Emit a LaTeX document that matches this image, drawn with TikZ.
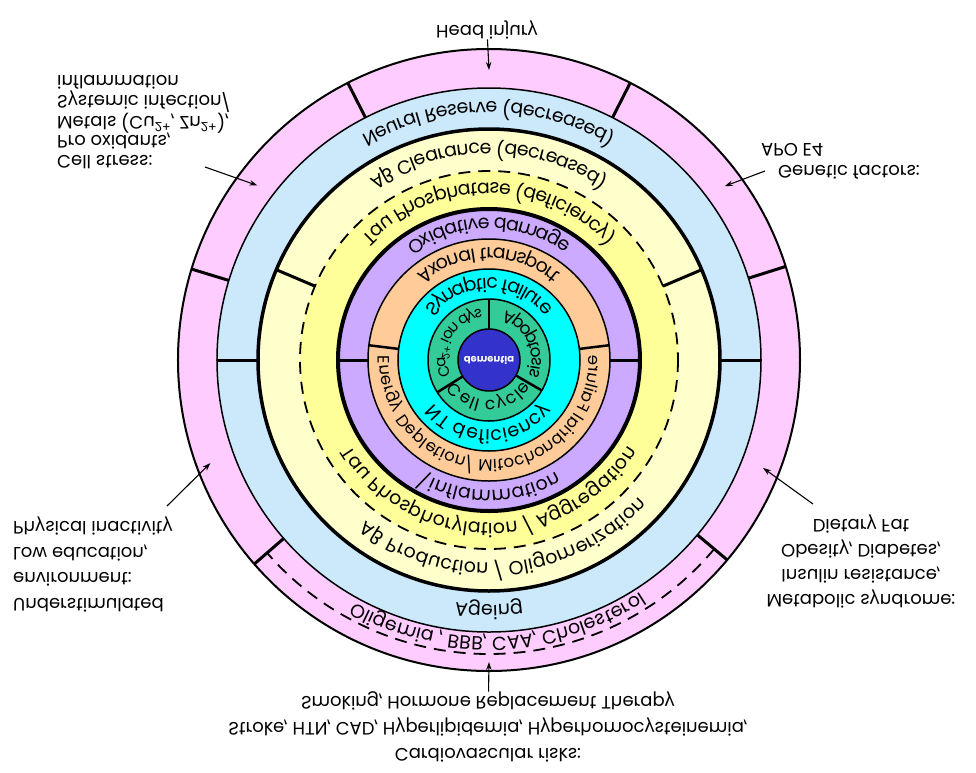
\documentclass[tikz,border=0pt]{standalone}
\usepackage{fontspec}
\setmainfont{Poppins}
\newfontfamily\grk{DejaVu Sans}
\usetikzlibrary{arrows.meta,decorations.text}
\definecolor{pinkring}{HTML}{FFCCFF}
\definecolor{bluering}{HTML}{CCE9FB}
\definecolor{paleyellow}{HTML}{FFFFCC}
\definecolor{yellowring}{HTML}{FFFF99}
\definecolor{purplering}{HTML}{CCAAFF}
\definecolor{orangering}{HTML}{FFCC99}
\definecolor{cyanring}{HTML}{00FFFF}
\definecolor{greenring}{HTML}{33CC99}
\definecolor{corecol}{HTML}{3333CC}

\begin{document}
\begin{tikzpicture}[x=1pt, y=1pt,
    divider/.style={line width=3pt},
    arr/.style={-{Stealth[length=8pt,width=5.5pt]}, line width=1.1pt},
    txt/.style={inner sep=0pt, align=left, font=\fontsize{18}{20}\selectfont},
    ringtext/.style={decorate, decoration={text along path, text align=center, text={#1}}}]

  \fontsize{19}{22}\selectfont
  \useasboundingbox (-489,-412) rectangle (487,360);

  % the whole figure is printed upside down
  \begin{scope}[transform canvas={yscale=-1}]
  \fill[pinkring] (0,0) circle (311);
  \fill[bluering] (0,0) circle (272);
  \fill[paleyellow] (0,0) circle (231);
  \fill[yellowring] (0,0) circle (189);
  \fill[purplering] (0,0) circle (151);
  \fill[orangering] (0,0) circle (121);
  \fill[cyanring] (0,0) circle (91);
  \fill[greenring] (0,0) circle (61);
  \fill[corecol] (0,0) circle (31);

  \draw[line width=2pt] (0,0) circle (311);
  \draw[line width=1.5pt] (0,0) circle (272);
  \draw[line width=3.5pt] (0,0) circle (231);
  \draw[line width=1.8pt, dash pattern=on 12pt off 8pt] (0,0) circle (189);
  \draw[line width=4pt] (0,0) circle (151);
  \draw[line width=1.5pt] (0,0) circle (121);
  \draw[line width=1.5pt] (0,0) circle (91);
  \draw[line width=1.5pt] (0,0) circle (61);
  \draw[line width=1.5pt] (0,0) circle (31);
  \draw[line width=1.8pt, dash pattern=on 12pt off 8pt] (40:294) arc[start angle=40, end angle=139, radius=294];

  \foreach \a in {40,139,197,243,297,342.5} \draw[divider] (\a:272) -- (\a:311);
  \foreach \a in {0,180} \draw[divider] (\a:231) -- (\a:272);
  \foreach \a in {203,337} \draw[divider] (\a:189) -- (\a:231);
  \foreach \a in {0,180} \draw[divider] (\a:121) -- (\a:151);
  \foreach \a in {187,353} \draw[line width=2.5pt] (\a:91) -- (\a:121);
  \foreach \a in {30,148,270} \draw[line width=2.5pt] (\a:31) -- (\a:61);

  % ring labels
  \path[ringtext={Oligemia , BBB, CAA, Cholesterol}] (178:277) arc[start angle=178, end angle=-2, radius=277];
  \path[ringtext={Ageing}] (150:245) arc[start angle=150, end angle=30, radius=245];
  \path[ringtext={Neural Reserve (decreased)}] (190:258) arc[start angle=190, end angle=350, radius=258];
  \path[ringtext={A{\grk β} Production / Oligomerization}] (175:203) arc[start angle=175, end angle=-5, radius=203];
  \path[ringtext={A{\grk β} Clearance (decreased)}] (190:217) arc[start angle=190, end angle=350, radius=217];
  \path[ringtext={Tau Phosphorylation / Aggregation}] (180:163) arc[start angle=180, end angle=0, radius=163];
  \path[ringtext={Tau Phosphatase (deficiency)}] (180:177) arc[start angle=180, end angle=360, radius=177];
  \path[ringtext={{\textbackslash}inflammation}] (170:130) arc[start angle=170, end angle=10, radius=130];
  \path[ringtext={Oxidative damage}] (190:142) arc[start angle=190, end angle=350, radius=142];
  \path[ringtext={|\fontsize{16.5}{20}\selectfont|Energy Depletion/ Mitochondrial Failure}] (225:100) arc[start angle=225, end angle=-45, radius=100];
  \path[ringtext={Axonal transport}] (180:112) arc[start angle=180, end angle=360, radius=112];
  \path[ringtext={NT deficiency}] (180:70) arc[start angle=180, end angle=0, radius=70];
  \path[ringtext={Synaptic failure}] (175:82) arc[start angle=175, end angle=365, radius=82];
  \path[ringtext={|\fontsize{17}{20}\selectfont|Cell cycle}] (175:40) arc[start angle=175, end angle=5, radius=40];
  \path[ringtext={|\fontsize{15}{18}\selectfont|Ca{\textsuperscript{2+}} ion dys}] (125:52) arc[start angle=125, end angle=295, radius=52];
  \path[ringtext={|\fontsize{17}{20}\selectfont|Apoptosis}] (260:52) arc[start angle=260, end angle=410, radius=52];

  \node[text=white, font=\bfseries\fontsize{10}{12}\selectfont] (dem) at (0,0) {dementia};

  % risk factors
  \node[txt] (inj) at (-2,-330) {Head injury};
  \node[txt, anchor=west, font=\fontsize{18}{19.5}\selectfont] (stress) at (-432,-238)
    {Cell stress:\\Pro oxidants,\\Metals (Cu\textsuperscript{2+}, Zn\textsuperscript{2+}),\\Systemic infection/\\inflammation};
  \node[txt, anchor=west] (gen) at (289,-188) {Genetic factors:};
  \node[txt, anchor=west] (apo) at (272,-210) {APO E4};
  \node[txt, anchor=west, font=\fontsize{18}{25.5}\selectfont] (under) at (-476,204.5)
    {Understimulated\\environment:\\Low education,\\Physical inactivity};
  \node[txt, align=center, font=\fontsize{18}{25}\selectfont] (meta) at (372,202)
    {Metabolic syndrome:\\Insulin resistance,\\Obesity, Diabetes,\\Dietary Fat};
  \node[txt, align=center, font=\fontsize{18}{26}\selectfont] (cardio) at (-1,367)
    {Cardiovascular risks:\\Stroke, HTN, CAD, Hyperlipidemia, Hyperhomocysteinemia,\\Smoking, Hormone Replacement Therapy};

  \coordinate (injHead) at (-90:290);
  \coordinate (stressTail) at (-284,-193);
  \coordinate (stressHead) at (217:290);
  \coordinate (genTail) at (276,-189);
  \coordinate (genHead) at (323.6:293);
  \coordinate (underTail) at (-322,146);
  \coordinate (underHead) at (159.7:297);
  \coordinate (metaTail) at (324,144);
  \coordinate (metaHead) at (21.5:294.5);
  \coordinate (cardioHead) at (90:302);

  \draw[arr] (inj) -- (injHead);
  \draw[arr] (stressTail) -- (stressHead);
  \draw[arr] (genTail) -- (genHead);
  \draw[arr] (underTail) -- (underHead);
  \draw[arr] (metaTail) -- (metaHead);
  \draw[arr] (cardio) -- (cardioHead);
  \end{scope}
\end{tikzpicture}
\end{document}
